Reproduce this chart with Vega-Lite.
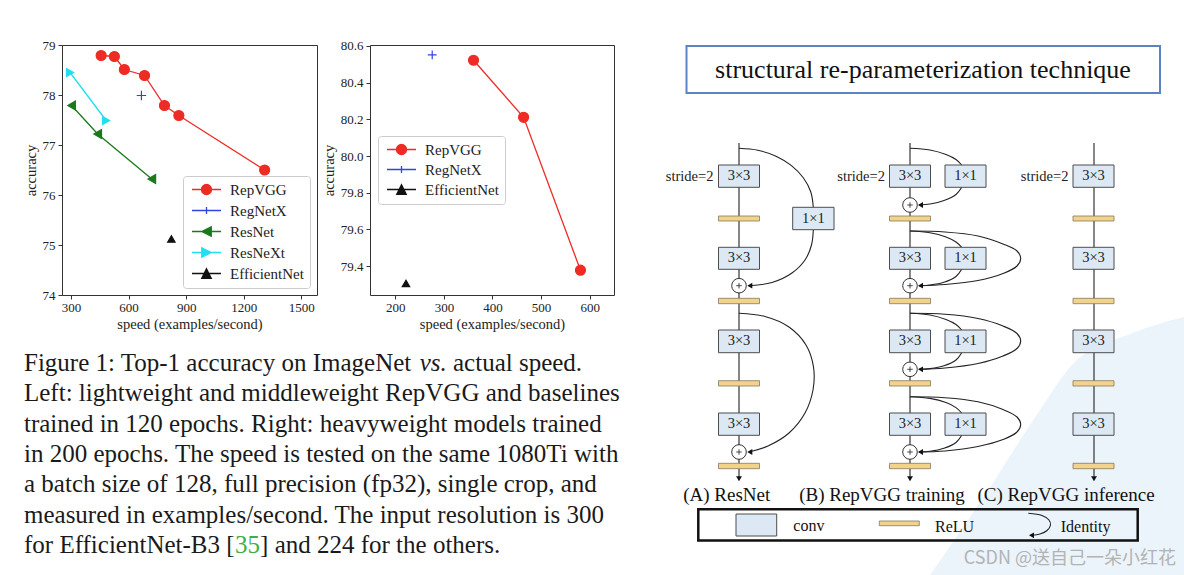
{
  "$schema": "https://vega.github.io/schema/vega-lite/v6.json",
  "background": "white",
  "padding": {"left": 22, "top": 38, "right": 0, "bottom": 0},
  "config": {
    "font": "Liberation Serif",
    "view": {"stroke": "#333333", "strokeWidth": 1},
    "axis": {"grid": false, "domain": false, "tickColor": "#333333", "tickSize": 4, "labelFont": "Liberation Serif", "labelFontSize": 13, "labelColor": "#222222", "titleFont": "Liberation Serif", "titleFontSize": 14.5, "titleFontWeight": "normal", "titleColor": "#222222", "labelOverlap": false, "labelFlush": false},
    "legend": {"labelFont": "Liberation Serif", "labelFontSize": 15, "labelColor": "#222222", "symbolSize": 100, "symbolStrokeWidth": 1.3, "padding": 6, "rowPadding": 5, "symbolOffset": 10, "labelOffset": 16, "strokeColor": "#cccccc", "fillColor": "rgba(255,255,255,0.85)", "cornerRadius": 3, "symbolOpacity": 1}
  },
  "datasets": {
    "left": [
      {"model": "RepVGG", "speed": 457, "acc": 78.79},
      {"model": "RepVGG", "speed": 526, "acc": 78.77},
      {"model": "RepVGG", "speed": 578, "acc": 78.51},
      {"model": "RepVGG", "speed": 683, "acc": 78.39},
      {"model": "RepVGG", "speed": 787, "acc": 77.79},
      {"model": "RepVGG", "speed": 862, "acc": 77.59},
      {"model": "RepVGG", "speed": 1309, "acc": 76.5},
      {"model": "RegNetX", "speed": 667, "acc": 77.99},
      {"model": "ResNet", "speed": 303, "acc": 77.79},
      {"model": "ResNet", "speed": 439, "acc": 77.22},
      {"model": "ResNet", "speed": 721, "acc": 76.32},
      {"model": "ResNeXt", "speed": 295, "acc": 78.45},
      {"model": "ResNeXt", "speed": 483, "acc": 77.49},
      {"model": "EfficientNet", "speed": 823, "acc": 75.12}
    ],
    "right": [
      {"model": "RepVGG", "speed": 361, "acc": 80.522},
      {"model": "RepVGG", "speed": 464, "acc": 80.211},
      {"model": "RepVGG", "speed": 581, "acc": 79.378},
      {"model": "RegNetX", "speed": 276, "acc": 80.551},
      {"model": "EfficientNet", "speed": 222, "acc": 79.306}
    ],
    "caption": [
      {"line": 1, "x": 0, "kind": "text", "text": "Figure 1: Top-1 accuracy on ImageNet"},
      {"line": 1, "x": 395.7, "kind": "em", "text": "vs."},
      {"line": 1, "x": 429, "kind": "text", "text": "actual speed."},
      {"line": 2, "x": 0, "kind": "text", "text": "Left: lightweight and middleweight RepVGG and baselines"},
      {"line": 3, "x": 0, "kind": "text", "text": "trained in 120 epochs. Right: heavyweight models trained"},
      {"line": 4, "x": 0, "kind": "text", "text": "in 200 epochs. The speed is tested on the same 1080Ti with"},
      {"line": 5, "x": 0, "kind": "text", "text": "a batch size of 128, full precision (fp32), single crop, and"},
      {"line": 6, "x": 0, "kind": "text", "text": "measured in examples/second. The input resolution is 300"},
      {"line": 7, "x": 0, "kind": "text", "text": "for EfficientNet-B3 ["},
      {"line": 7, "x": 211.05, "kind": "cite", "text": "35"},
      {"line": 7, "x": 236.05, "kind": "text", "text": "] and 224 for the others."}
    ],
    "tint": [
      {"x": 930, "y": 575, "y2": 575},
      {"x": 985, "y": 495, "y2": 575},
      {"x": 1040, "y": 410, "y2": 575},
      {"x": 1072, "y": 365, "y2": 575},
      {"x": 1130, "y": 334, "y2": 575},
      {"x": 1184, "y": 317, "y2": 575}
    ],
    "spines": [
      {"x": 739, "y": 143, "y2": 477},
      {"x": 910, "y": 143, "y2": 477},
      {"x": 1094, "y": 143, "y2": 477}
    ],
    "curves": [
      {"id": "A1", "i": 0, "x": 739, "y": 148.3}, {"id": "A1", "i": 1, "x": 758, "y": 150.3}, {"id": "A1", "i": 2, "x": 776, "y": 156.2}, {"id": "A1", "i": 3, "x": 791.5, "y": 165.6}, {"id": "A1", "i": 4, "x": 803.3, "y": 177.8}, {"id": "A1", "i": 5, "x": 810.8, "y": 192}, {"id": "A1", "i": 6, "x": 813.3, "y": 207.3},
      {"id": "A2", "i": 0, "x": 813.3, "y": 229.7}, {"id": "A2", "i": 1, "x": 811.5, "y": 245}, {"id": "A2", "i": 2, "x": 805, "y": 260}, {"id": "A2", "i": 3, "x": 792, "y": 273}, {"id": "A2", "i": 4, "x": 772, "y": 282.5}, {"id": "A2", "i": 5, "x": 750, "y": 285.7},
      {"id": "A3", "i": 0, "x": 739, "y": 313.3}, {"id": "A3", "i": 1, "x": 765, "y": 316.5}, {"id": "A3", "i": 2, "x": 789, "y": 327}, {"id": "A3", "i": 3, "x": 806, "y": 345}, {"id": "A3", "i": 4, "x": 813.5, "y": 367}, {"id": "A3", "i": 5, "x": 813, "y": 390}, {"id": "A3", "i": 6, "x": 805, "y": 413}, {"id": "A3", "i": 7, "x": 789, "y": 433}, {"id": "A3", "i": 8, "x": 768, "y": 446}, {"id": "A3", "i": 9, "x": 750, "y": 451.7},
      {"id": "B1", "i": 0, "x": 910, "y": 148.3}, {"id": "B1", "i": 1, "x": 930, "y": 150}, {"id": "B1", "i": 2, "x": 946, "y": 154.5}, {"id": "B1", "i": 3, "x": 956, "y": 159.5}, {"id": "B1", "i": 4, "x": 961.7, "y": 165},
      {"id": "B2", "i": 0, "x": 961.7, "y": 187.3}, {"id": "B2", "i": 1, "x": 956, "y": 194.5}, {"id": "B2", "i": 2, "x": 944, "y": 200.5}, {"id": "B2", "i": 3, "x": 930, "y": 204}, {"id": "B2", "i": 4, "x": 919, "y": 205},
      {"id": "B3", "i": 0, "x": 910, "y": 231}, {"id": "B3", "i": 1, "x": 930, "y": 232.7}, {"id": "B3", "i": 2, "x": 946, "y": 237}, {"id": "B3", "i": 3, "x": 956, "y": 242}, {"id": "B3", "i": 4, "x": 961.7, "y": 247.3},
      {"id": "B4", "i": 0, "x": 961.7, "y": 269.3}, {"id": "B4", "i": 1, "x": 956, "y": 276.5}, {"id": "B4", "i": 2, "x": 944, "y": 282.3}, {"id": "B4", "i": 3, "x": 930, "y": 285}, {"id": "B4", "i": 4, "x": 919, "y": 285.7},
      {"id": "B5", "i": 0, "x": 910, "y": 231}, {"id": "B5", "i": 1, "x": 945, "y": 232}, {"id": "B5", "i": 2, "x": 978, "y": 236}, {"id": "B5", "i": 3, "x": 1003, "y": 244}, {"id": "B5", "i": 4, "x": 1017, "y": 251}, {"id": "B5", "i": 5, "x": 1020.7, "y": 258.3}, {"id": "B5", "i": 6, "x": 1017, "y": 266}, {"id": "B5", "i": 7, "x": 1003, "y": 273.5}, {"id": "B5", "i": 8, "x": 978, "y": 280.5}, {"id": "B5", "i": 9, "x": 945, "y": 284.5}, {"id": "B5", "i": 10, "x": 919, "y": 285.7},
      {"id": "B6", "i": 0, "x": 910, "y": 313.3}, {"id": "B6", "i": 1, "x": 930, "y": 315}, {"id": "B6", "i": 2, "x": 946, "y": 319.5}, {"id": "B6", "i": 3, "x": 956, "y": 324.5}, {"id": "B6", "i": 4, "x": 961.7, "y": 330},
      {"id": "B7", "i": 0, "x": 961.7, "y": 352.7}, {"id": "B7", "i": 1, "x": 956, "y": 360}, {"id": "B7", "i": 2, "x": 944, "y": 365.8}, {"id": "B7", "i": 3, "x": 930, "y": 368.6}, {"id": "B7", "i": 4, "x": 919, "y": 369.3},
      {"id": "B8", "i": 0, "x": 910, "y": 313.3}, {"id": "B8", "i": 1, "x": 945, "y": 314.3}, {"id": "B8", "i": 2, "x": 978, "y": 318.5}, {"id": "B8", "i": 3, "x": 1003, "y": 326}, {"id": "B8", "i": 4, "x": 1017, "y": 333.5}, {"id": "B8", "i": 5, "x": 1020.7, "y": 341}, {"id": "B8", "i": 6, "x": 1017, "y": 348.5}, {"id": "B8", "i": 7, "x": 1003, "y": 356}, {"id": "B8", "i": 8, "x": 978, "y": 363.5}, {"id": "B8", "i": 9, "x": 945, "y": 368}, {"id": "B8", "i": 10, "x": 919, "y": 369.3},
      {"id": "B9", "i": 0, "x": 910, "y": 396.7}, {"id": "B9", "i": 1, "x": 930, "y": 398.4}, {"id": "B9", "i": 2, "x": 946, "y": 402.6}, {"id": "B9", "i": 3, "x": 956, "y": 407.6}, {"id": "B9", "i": 4, "x": 961.7, "y": 413},
      {"id": "B10", "i": 0, "x": 961.7, "y": 435.3}, {"id": "B10", "i": 1, "x": 956, "y": 442.5}, {"id": "B10", "i": 2, "x": 944, "y": 448.3}, {"id": "B10", "i": 3, "x": 930, "y": 451.3}, {"id": "B10", "i": 4, "x": 919, "y": 452},
      {"id": "B11", "i": 0, "x": 910, "y": 396.7}, {"id": "B11", "i": 1, "x": 945, "y": 397.7}, {"id": "B11", "i": 2, "x": 978, "y": 401.8}, {"id": "B11", "i": 3, "x": 1003, "y": 409.5}, {"id": "B11", "i": 4, "x": 1017, "y": 417}, {"id": "B11", "i": 5, "x": 1020.7, "y": 424.3}, {"id": "B11", "i": 6, "x": 1017, "y": 432}, {"id": "B11", "i": 7, "x": 1003, "y": 439.5}, {"id": "B11", "i": 8, "x": 978, "y": 446.5}, {"id": "B11", "i": 9, "x": 945, "y": 451}, {"id": "B11", "i": 10, "x": 919, "y": 452},
      {"id": "L1", "i": 0, "x": 1028.3, "y": 513.3}, {"id": "L1", "i": 1, "x": 1042, "y": 515.5}, {"id": "L1", "i": 2, "x": 1049, "y": 520}, {"id": "L1", "i": 3, "x": 1050.5, "y": 525}, {"id": "L1", "i": 4, "x": 1047, "y": 530.5}, {"id": "L1", "i": 5, "x": 1040, "y": 534}, {"id": "L1", "i": 6, "x": 1032, "y": 535.3}
    ],
    "boxes": [
      {"x": 718.5, "x2": 759.5, "y": 165, "y2": 187.3}, {"x": 718.5, "x2": 759.5, "y": 247.3, "y2": 269.3}, {"x": 718.5, "x2": 759.5, "y": 330, "y2": 352.7}, {"x": 718.5, "x2": 759.5, "y": 413, "y2": 435.3},
      {"x": 792.7, "x2": 834, "y": 207.3, "y2": 229.7},
      {"x": 889.5, "x2": 930.5, "y": 165, "y2": 187.3}, {"x": 889.5, "x2": 930.5, "y": 247.3, "y2": 269.3}, {"x": 889.5, "x2": 930.5, "y": 330, "y2": 352.7}, {"x": 889.5, "x2": 930.5, "y": 413, "y2": 435.3},
      {"x": 945, "x2": 986, "y": 165, "y2": 187.3}, {"x": 945, "x2": 986, "y": 247.3, "y2": 269.3}, {"x": 945, "x2": 986, "y": 330, "y2": 352.7}, {"x": 945, "x2": 986, "y": 413, "y2": 435.3},
      {"x": 1073, "x2": 1114, "y": 165, "y2": 187.3}, {"x": 1073, "x2": 1114, "y": 247.3, "y2": 269.3}, {"x": 1073, "x2": 1114, "y": 330, "y2": 352.7}, {"x": 1073, "x2": 1114, "y": 413, "y2": 435.3},
      {"x": 736, "x2": 776.7, "y": 514, "y2": 536}
    ],
    "relus": [
      {"x": 718.5, "x2": 759.5, "y": 216, "y2": 221}, {"x": 718.5, "x2": 759.5, "y": 298.3, "y2": 303.7}, {"x": 718.5, "x2": 759.5, "y": 380.7, "y2": 386}, {"x": 718.5, "x2": 759.5, "y": 463.3, "y2": 468.7},
      {"x": 889.5, "x2": 930.5, "y": 216, "y2": 221}, {"x": 889.5, "x2": 930.5, "y": 298.3, "y2": 303.7}, {"x": 889.5, "x2": 930.5, "y": 380.7, "y2": 386}, {"x": 889.5, "x2": 930.5, "y": 463.3, "y2": 468.7},
      {"x": 1073, "x2": 1114, "y": 216, "y2": 221}, {"x": 1073, "x2": 1114, "y": 298.3, "y2": 303.7}, {"x": 1073, "x2": 1114, "y": 380.7, "y2": 386}, {"x": 1073, "x2": 1114, "y": 463.3, "y2": 468.7},
      {"x": 879.3, "x2": 919.3, "y": 521, "y2": 525.7}
    ],
    "plus": [
      {"x": 739, "y": 285.7}, {"x": 739, "y": 452},
      {"x": 910, "y": 205}, {"x": 910, "y": 285.7}, {"x": 910, "y": 369.3}, {"x": 910, "y": 452}
    ],
    "arrows": [
      {"x": 749.8, "y": 285.7, "dir": "left"}, {"x": 749.8, "y": 452, "dir": "left"},
      {"x": 920.5, "y": 205, "dir": "left"}, {"x": 920.5, "y": 285.7, "dir": "left"}, {"x": 920.5, "y": 369.3, "dir": "left"}, {"x": 920.5, "y": 452, "dir": "left"},
      {"x": 1031.5, "y": 535.3, "dir": "left"},
      {"x": 739, "y": 478.7, "dir": "down"}, {"x": 910, "y": 478.7, "dir": "down"}, {"x": 1094, "y": 478.7, "dir": "down"}
    ],
    "boxlabels": [
      {"x": 739, "y": 176.2, "text": "3×3"}, {"x": 739, "y": 258.3, "text": "3×3"}, {"x": 739, "y": 341.4, "text": "3×3"}, {"x": 739, "y": 424.2, "text": "3×3"},
      {"x": 813.3, "y": 218.5, "text": "1×1"},
      {"x": 910, "y": 176.2, "text": "3×3"}, {"x": 910, "y": 258.3, "text": "3×3"}, {"x": 910, "y": 341.4, "text": "3×3"}, {"x": 910, "y": 424.2, "text": "3×3"},
      {"x": 965.5, "y": 176.2, "text": "1×1"}, {"x": 965.5, "y": 258.3, "text": "1×1"}, {"x": 965.5, "y": 341.4, "text": "1×1"}, {"x": 965.5, "y": 424.2, "text": "1×1"},
      {"x": 1093.5, "y": 176.2, "text": "3×3"}, {"x": 1093.5, "y": 258.3, "text": "3×3"}, {"x": 1093.5, "y": 341.4, "text": "3×3"}, {"x": 1093.5, "y": 424.2, "text": "3×3"}
    ],
    "stride": [
      {"x": 713.5, "y": 177, "text": "stride=2"}, {"x": 885, "y": 177, "text": "stride=2"}, {"x": 1068.5, "y": 176.5, "text": "stride=2"}
    ],
    "collabels": [
      {"x": 726.7, "y": 495, "text": "(A) ResNet"}, {"x": 882, "y": 495, "text": "(B) RepVGG training"}, {"x": 1066, "y": 495, "text": "(C) RepVGG inference"}
    ],
    "keylabels": [
      {"x": 793.3, "y": 526, "text": "conv"}, {"x": 935, "y": 526.7, "text": "ReLU"}, {"x": 1060.7, "y": 526.7, "text": "Identity"}
    ]
  },
  "spacing": 30,
  "hconcat": [
    {
      "spacing": 20,
      "vconcat": [
        {
          "spacing": 2,
          "hconcat": [
            {
              "width": 255,
              "height": 250,
              "data": {"name": "left"},
              "resolve": {"scale": {"shape": "independent", "fill": "independent", "stroke": "independent", "size": "independent"}},
              "layer": [
                {
                  "mark": {"type": "line", "strokeWidth": 1.3},
                  "encoding": {
                    "x": {"field": "speed", "type": "quantitative", "scale": {"domain": [253, 1582], "nice": false, "zero": false}, "axis": {"values": [300, 600, 900, 1200, 1500], "format": "d", "title": "speed (examples/second)", "labelPadding": 2, "titlePadding": 3}},
                    "y": {"field": "acc", "type": "quantitative", "scale": {"domain": [74, 79], "nice": false, "zero": false}, "axis": {"values": [74, 75, 76, 77, 78, 79], "format": "d", "title": "accuracy", "labelPadding": 3, "titlePadding": 4}},
                    "color": {"field": "model", "type": "nominal", "scale": {"domain": ["RepVGG", "RegNetX", "ResNet", "ResNeXt", "EfficientNet"], "range": ["#ee2b24", "#3344dd", "#1a7a1a", "#22dff0", "#111111"]}, "legend": null},
                    "order": {"field": "speed", "type": "quantitative"}
                  }
                },
                {
                  "mark": {"type": "point", "filled": true, "opacity": 1, "strokeWidth": 1.2},
                  "encoding": {
                    "x": {"field": "speed", "type": "quantitative"},
                    "y": {"field": "acc", "type": "quantitative"},
                    "fill": {"field": "model", "type": "nominal", "scale": {"domain": ["RepVGG", "RegNetX", "ResNet", "ResNeXt", "EfficientNet"], "range": ["#ee2b24", "#3344dd", "#1a7a1a", "#22dff0", "#111111"]}, "legend": null},
                    "stroke": {"field": "model", "type": "nominal", "scale": {"domain": ["RepVGG", "RegNetX", "ResNet", "ResNeXt", "EfficientNet"], "range": ["#ee2b24", "#3344dd", "#1a7a1a", "#22dff0", "#111111"]}, "legend": null},
                    "shape": {"field": "model", "type": "nominal", "scale": {"domain": ["RepVGG", "RegNetX", "ResNet", "ResNeXt", "EfficientNet"], "range": ["circle", "M-1,0H1M0,-1V1", "triangle-left", "triangle-right", "triangle-up"]}, "legend": null},
                    "size": {"field": "model", "type": "nominal", "scale": {"domain": ["RepVGG", "RegNetX", "ResNet", "ResNeXt", "EfficientNet"], "range": [100, 55, 90, 90, 90]}, "legend": null}
                  }
                },
                {
                  "transform": [{"filter": "false"}],
                  "mark": {"type": "point", "filled": true, "opacity": 1},
                  "encoding": {
                    "fill": {"field": "model", "type": "nominal", "scale": {"domain": ["RepVGG", "RegNetX", "ResNet", "ResNeXt", "EfficientNet"], "range": ["#ee2b24", "#3344dd", "#1a7a1a", "#22dff0", "#111111"]}, "legend": {"title": null, "orient": "bottom-right", "offset": 7}},
                    "stroke": {"field": "model", "type": "nominal", "scale": {"domain": ["RepVGG", "RegNetX", "ResNet", "ResNeXt", "EfficientNet"], "range": ["#ee2b24", "#3344dd", "#1a7a1a", "#22dff0", "#111111"]}, "legend": {"title": null, "orient": "bottom-right", "offset": 7}},
                    "shape": {"field": "model", "type": "nominal", "scale": {"domain": ["RepVGG", "RegNetX", "ResNet", "ResNeXt", "EfficientNet"], "range": ["M-2.9,0H2.9M-1,0A1,1,0,1,1,1,0A1,1,0,1,1,-1,0Z", "M-2.9,0H2.9M0,-0.7V0.7", "M-2.9,0H2.9M-0.95,0L0.95,-0.95L0.95,0.95Z", "M-2.9,0H2.9M0.95,0L-0.95,-0.95L-0.95,0.95Z", "M-2.9,0H2.9M0,-0.95L0.95,0.95L-0.95,0.95Z"]}, "legend": {"title": null, "orient": "bottom-right", "offset": 7}}
                  }
                }
              ]
            },
            {
              "width": 244,
              "height": 250,
              "data": {"name": "right"},
              "resolve": {"scale": {"shape": "independent", "fill": "independent", "stroke": "independent", "size": "independent"}},
              "layer": [
                {
                  "mark": {"type": "line", "strokeWidth": 1.3},
                  "encoding": {
                    "x": {"field": "speed", "type": "quantitative", "scale": {"domain": [148, 650], "nice": false, "zero": false}, "axis": {"values": [200, 300, 400, 500, 600], "format": "d", "title": "speed (examples/second)", "labelPadding": 2, "titlePadding": 3}},
                    "y": {"field": "acc", "type": "quantitative", "scale": {"domain": [79.243, 80.605], "nice": false, "zero": false}, "axis": {"values": [79.4, 79.6, 79.8, 80.0, 80.2, 80.4, 80.6], "format": ".1f", "title": "accuracy", "labelPadding": 3, "titlePadding": 4}},
                    "color": {"field": "model", "type": "nominal", "scale": {"domain": ["RepVGG", "RegNetX", "EfficientNet"], "range": ["#ee2b24", "#3344dd", "#111111"]}, "legend": null},
                    "order": {"field": "speed", "type": "quantitative"}
                  }
                },
                {
                  "mark": {"type": "point", "filled": true, "opacity": 1, "strokeWidth": 1.2},
                  "encoding": {
                    "x": {"field": "speed", "type": "quantitative"},
                    "y": {"field": "acc", "type": "quantitative"},
                    "fill": {"field": "model", "type": "nominal", "scale": {"domain": ["RepVGG", "RegNetX", "EfficientNet"], "range": ["#ee2b24", "#3344dd", "#111111"]}, "legend": null},
                    "stroke": {"field": "model", "type": "nominal", "scale": {"domain": ["RepVGG", "RegNetX", "EfficientNet"], "range": ["#ee2b24", "#3344dd", "#111111"]}, "legend": null},
                    "shape": {"field": "model", "type": "nominal", "scale": {"domain": ["RepVGG", "RegNetX", "EfficientNet"], "range": ["circle", "M-1,0H1M0,-1V1", "triangle-up"]}, "legend": null},
                    "size": {"field": "model", "type": "nominal", "scale": {"domain": ["RepVGG", "RegNetX", "EfficientNet"], "range": [100, 55, 90]}, "legend": null}
                  }
                },
                {
                  "transform": [{"filter": "false"}],
                  "mark": {"type": "point", "filled": true, "opacity": 1},
                  "encoding": {
                    "fill": {"field": "model", "type": "nominal", "scale": {"domain": ["RepVGG", "RegNetX", "EfficientNet"], "range": ["#ee2b24", "#3344dd", "#111111"]}, "legend": {"title": null, "orient": "none", "legendX": 8, "legendY": 91, "rowPadding": 4}},
                    "stroke": {"field": "model", "type": "nominal", "scale": {"domain": ["RepVGG", "RegNetX", "EfficientNet"], "range": ["#ee2b24", "#3344dd", "#111111"]}, "legend": {"title": null, "orient": "none", "legendX": 8, "legendY": 91, "rowPadding": 4}},
                    "shape": {"field": "model", "type": "nominal", "scale": {"domain": ["RepVGG", "RegNetX", "EfficientNet"], "range": ["M-2.9,0H2.9M-1,0A1,1,0,1,1,1,0A1,1,0,1,1,-1,0Z", "M-2.9,0H2.9M0,-0.7V0.7", "M-2.9,0H2.9M0,-0.95L0.95,0.95L-0.95,0.95Z"]}, "legend": {"title": null, "orient": "none", "legendX": 8, "legendY": 91, "rowPadding": 4}}
                  }
                }
              ]
            }
          ]
        },
        {
          "width": 552,
          "height": 212,
          "view": {"stroke": null},
          "data": {"name": "caption"},
          "encoding": {
            "x": {"field": "x", "type": "quantitative", "scale": {"domain": [38, 590], "nice": false, "zero": false}, "axis": null},
            "y": {"field": "line", "type": "ordinal", "scale": {"type": "point", "padding": 0.5}, "axis": null},
            "text": {"field": "text"}
          },
          "layer": [
            {
              "transform": [{"filter": "datum.kind === 'text'"}],
              "mark": {"type": "text", "align": "left", "baseline": "alphabetic", "font": "Liberation Serif", "fontSize": 25, "color": "#1a1a1a"}
            },
            {
              "transform": [{"filter": "datum.kind === 'em'"}],
              "mark": {"type": "text", "align": "left", "baseline": "alphabetic", "font": "Liberation Serif", "fontStyle": "italic", "fontSize": 25, "color": "#1a1a1a"}
            },
            {
              "transform": [{"filter": "datum.kind === 'cite'"}],
              "mark": {"type": "text", "align": "left", "baseline": "alphabetic", "font": "Liberation Serif", "fontSize": 25, "color": "#3cb043"}
            }
          ]
        }
      ]
    },
    {
      "width": 534,
      "height": 530,
      "view": {"stroke": null},
      "layer": [
        {
          "data": {"name": "tint"},
          "mark": {"type": "area", "color": "#ebf4fb", "opacity": 1, "interpolate": "monotone"},
          "encoding": {
            "x": {"field": "x", "type": "quantitative", "scale": {"domain": [650, 1184], "nice": false, "zero": false}, "axis": null},
            "y": {"field": "y", "type": "quantitative", "scale": {"domain": [45, 575], "nice": false, "zero": false, "reverse": true}, "axis": null},
            "y2": {"field": "y2"}
          }
        },
        {
          "data": {"values": [{"x": 686.5, "x2": 1160, "y": 46, "y2": 93}]},
          "mark": {"type": "rect", "fill": "white", "stroke": "#5b84c4", "strokeWidth": 2},
          "encoding": {
            "x": {"field": "x", "type": "quantitative"},
            "x2": {"field": "x2"},
            "y": {"field": "y", "type": "quantitative"},
            "y2": {"field": "y2"}
          }
        },
        {
          "data": {"values": [{"x": 923, "y": 69.5, "text": "structural re-parameterization technique"}]},
          "mark": {"type": "text", "align": "center", "baseline": "middle", "font": "Liberation Serif", "fontSize": 26, "color": "#111111"},
          "encoding": {"x": {"field": "x", "type": "quantitative"}, "y": {"field": "y", "type": "quantitative"}, "text": {"field": "text"}}
        },
        {
          "data": {"name": "spines"},
          "mark": {"type": "rule", "color": "#222222", "strokeWidth": 1.1},
          "encoding": {"x": {"field": "x", "type": "quantitative"}, "y": {"field": "y", "type": "quantitative"}, "y2": {"field": "y2"}}
        },
        {
          "data": {"name": "curves"},
          "mark": {"type": "line", "interpolate": "catmull-rom", "color": "#222222", "strokeWidth": 1.1},
          "encoding": {"x": {"field": "x", "type": "quantitative"}, "y": {"field": "y", "type": "quantitative"}, "detail": {"field": "id"}, "order": {"field": "i", "type": "quantitative"}}
        },
        {
          "data": {"name": "boxes"},
          "mark": {"type": "rect", "fill": "#dce9f5", "stroke": "#4d4d4d", "strokeWidth": 1},
          "encoding": {"x": {"field": "x", "type": "quantitative"}, "x2": {"field": "x2"}, "y": {"field": "y", "type": "quantitative"}, "y2": {"field": "y2"}}
        },
        {
          "data": {"name": "relus"},
          "mark": {"type": "rect", "fill": "#f2d38c", "stroke": "#857a5e", "strokeWidth": 0.8},
          "encoding": {"x": {"field": "x", "type": "quantitative"}, "x2": {"field": "x2"}, "y": {"field": "y", "type": "quantitative"}, "y2": {"field": "y2"}}
        },
        {
          "data": {"name": "plus"},
          "mark": {"type": "point", "shape": "circle", "size": 213, "fill": "white", "stroke": "#333333", "strokeWidth": 1, "opacity": 1},
          "encoding": {"x": {"field": "x", "type": "quantitative"}, "y": {"field": "y", "type": "quantitative"}}
        },
        {
          "data": {"name": "plus"},
          "mark": {"type": "point", "shape": "M-1,0H1M0,-1V1", "size": 30, "filled": false, "color": "#333333", "strokeWidth": 0.9, "opacity": 1},
          "encoding": {"x": {"field": "x", "type": "quantitative"}, "y": {"field": "y", "type": "quantitative"}}
        },
        {
          "data": {"name": "arrows"},
          "mark": {"type": "point", "filled": true, "color": "#111111", "size": 34, "opacity": 1},
          "encoding": {
            "x": {"field": "x", "type": "quantitative"},
            "y": {"field": "y", "type": "quantitative"},
            "shape": {"field": "dir", "type": "nominal", "scale": {"domain": ["down", "left"], "range": ["triangle-down", "triangle-left"]}, "legend": null}
          }
        },
        {
          "data": {"name": "boxlabels"},
          "mark": {"type": "text", "align": "center", "baseline": "middle", "font": "Liberation Serif", "fontSize": 14.5, "color": "#222222"},
          "encoding": {"x": {"field": "x", "type": "quantitative"}, "y": {"field": "y", "type": "quantitative"}, "text": {"field": "text"}}
        },
        {
          "data": {"name": "stride"},
          "mark": {"type": "text", "align": "right", "baseline": "middle", "font": "Liberation Serif", "fontSize": 14.5, "color": "#222222"},
          "encoding": {"x": {"field": "x", "type": "quantitative"}, "y": {"field": "y", "type": "quantitative"}, "text": {"field": "text"}}
        },
        {
          "data": {"name": "collabels"},
          "mark": {"type": "text", "align": "center", "baseline": "middle", "font": "Liberation Serif", "fontSize": 19, "color": "#111111"},
          "encoding": {"x": {"field": "x", "type": "quantitative"}, "y": {"field": "y", "type": "quantitative"}, "text": {"field": "text"}}
        },
        {
          "data": {"values": [{"x": 698.3, "x2": 1137.7, "y": 509.3, "y2": 540.5}]},
          "mark": {"type": "rect", "fill": null, "fillOpacity": 0, "stroke": "#111111", "strokeWidth": 2.5},
          "encoding": {"x": {"field": "x", "type": "quantitative"}, "x2": {"field": "x2"}, "y": {"field": "y", "type": "quantitative"}, "y2": {"field": "y2"}}
        },
        {
          "data": {"name": "keylabels"},
          "mark": {"type": "text", "align": "left", "baseline": "middle", "font": "Liberation Serif", "fontSize": 16, "color": "#111111"},
          "encoding": {"x": {"field": "x", "type": "quantitative"}, "y": {"field": "y", "type": "quantitative"}, "text": {"field": "text"}}
        },
        {
          "data": {"values": [{"x": 1176, "y": 559, "text": "CSDN @送自己一朵小红花"}]},
          "mark": {"type": "text", "align": "right", "baseline": "middle", "font": "Noto Sans CJK SC", "fontSize": 18, "color": "#b3b3b3"},
          "encoding": {"x": {"field": "x", "type": "quantitative"}, "y": {"field": "y", "type": "quantitative"}, "text": {"field": "text"}}
        }
      ]
    }
  ]
}
